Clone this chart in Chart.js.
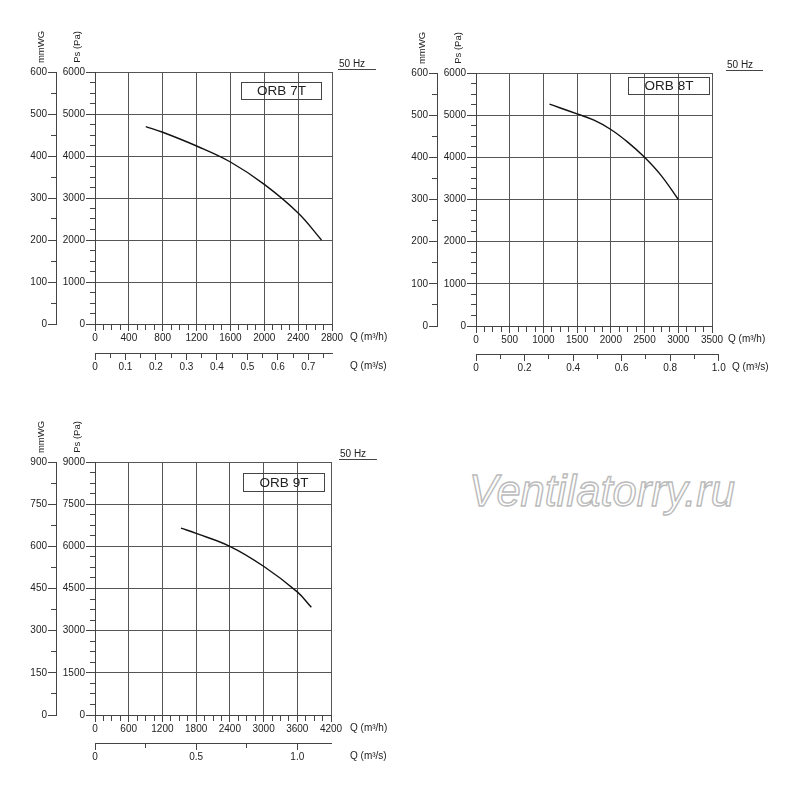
<!DOCTYPE html>
<html>
<head>
<meta charset="utf-8">
<script src="https://cdn.jsdelivr.net/npm/chart.js@4.4.1/dist/chart.umd.min.js"></script>
<style>
  html, body { margin: 0; padding: 0; background: #fff; }
  body { width: 800px; height: 789px; position: relative; overflow: hidden; }
  canvas { position: absolute; }
  #wm {
    position: absolute; left: 469px; top: 467px; line-height: 1;
    font: italic 43.5px "Liberation Sans", Arial, sans-serif;
    color: #fff; -webkit-text-stroke: 1.4px #bbbbbb; white-space: nowrap;
  }
</style>
</head>
<body>
<canvas id="c7" width="400" height="390" style="left:0;top:0"></canvas>
<canvas id="c8" width="420" height="390" style="left:380px;top:0"></canvas>
<canvas id="c9" width="400" height="399" style="left:0;top:390px"></canvas>
<div id="wm">Ventilatorry.ru</div>
<script>
// ORB 7T
const orb7Q  = [600, 800, 1200, 1600, 2000, 2400, 2676];
const orb7Ps = [4700, 4565, 4238, 3857, 3324, 2643, 2000];
const orb7PaTicks = [0, 1000, 2000, 3000, 4000, 5000, 6000];
const orb7MmTicks = [0, 100, 200, 300, 400, 500, 600];
const orb7QhTicks = [0, 400, 800, 1200, 1600, 2000, 2400, 2800];
const orb7QsTicks = [0, 0.1, 0.2, 0.3, 0.4, 0.5, 0.6, 0.7];

// ORB 8T
const orb8Q  = [1090, 1500, 1750, 2000, 2250, 2500, 2750, 3000];
const orb8Ps = [5260, 5030, 4880, 4660, 4360, 4000, 3560, 3000];
const orb8PaTicks = [0, 1000, 2000, 3000, 4000, 5000, 6000];
const orb8MmTicks = [0, 100, 200, 300, 400, 500, 600];
const orb8QhTicks = [0, 500, 1000, 1500, 2000, 2500, 3000, 3500];
const orb8QsTicks = [0, 0.2, 0.4, 0.6, 0.8, 1.0];

// ORB 9T
const orb9Q  = [1530, 1800, 2400, 3000, 3600, 3850];
const orb9Ps = [6650, 6460, 6000, 5290, 4380, 3830];
const orb9PaTicks = [0, 1500, 3000, 4500, 6000, 7500, 9000];
const orb9MmTicks = [0, 150, 300, 450, 600, 750, 900];
const orb9QhTicks = [0, 600, 1200, 1800, 2400, 3000, 3600, 4200];
const orb9QsTicks = [0, 0.5, 1.0];

const FONT = '"Liberation Sans", Arial, sans-serif';
const GRID = '#555';
const AXIS = '#444';
const TXT = '#222';

Chart.defaults.font.family = FONT;
Chart.defaults.font.size = 10;
Chart.defaults.color = TXT;

const panels = [
  { id: 'c7', name: 'ORB 7T', origin: [0, 0], pad: { left: 0, top: 72, right: 68, bottom: 12 },
    q: orb7Q, ps: orb7Ps, pa: orb7PaTicks, mm: orb7MmTicks, qh: orb7QhTicks, qs: orb7QsTicks,
    sub: { pa: 4, mm: 2, qh: 4, qs: 2 }, wL: [56, 39], hB: [29, 25],
    hz: [338, 376], box: [241, 82, 80, 17], qLab: [350, 350] },
  { id: 'c8', name: 'ORB 8T', origin: [380, 0], pad: { left: 0, top: 73, right: 88, bottom: 11 },
    q: orb8Q, ps: orb8Ps, pa: orb8PaTicks, mm: orb8MmTicks, qh: orb8QhTicks, qs: orb8QsTicks,
    sub: { pa: 4, mm: 2, qh: 4, qs: 2 }, wL: [57, 39], hB: [28, 25],
    hz: [726, 763], box: [628, 77, 81, 17], qLab: [728, 732] },
  { id: 'c9', name: 'ORB 9T', origin: [0, 390], pad: { left: 0, top: 72, right: 69, bottom: 21 },
    q: orb9Q, ps: orb9Ps, pa: orb9PaTicks, mm: orb9MmTicks, qh: orb9QhTicks, qs: orb9QsTicks,
    sub: { pa: 4, mm: 2, qh: 4, qs: 2 }, wL: [56, 39], hB: [28, 25],
    hz: [339, 377], box: [243, 473, 81, 18], qLab: [350, 350] }
];

function axis(pos, max, majors, sub, o) {
  const step = (majors[1] - majors[0]) / sub;
  const vals = [];
  for (let k = 0; k * step <= max + 1e-9; k++) vals.push(+(k * step).toFixed(6));
  const major = v => majors.some(m => Math.abs(m - v) < 1e-6);
  return {
    type: 'linear', position: pos, min: 0, max: max, weight: o.weight,
    afterBuildTicks: s => { s.ticks = vals.map(v => ({ value: v })); },
    afterFit: s => { if (pos === 'left') s.width = o.size; else s.height = o.size; },
    border: { display: true, color: AXIS, width: 1 },
    grid: {
      drawOnChartArea: !!o.grid,
      color: c => (o.grid && c.tick && major(c.tick.value)) ? GRID : 'rgba(0,0,0,0)',
      tickLength: o.tl,
      tickColor: AXIS,
      tickWidth: 1,
      tickBorderDash: c => (!c.tick || major(c.tick.value)) ? [] :
        (pos === 'left' ? [0, o.tl - o.ml, o.ml, 100] : [o.ml, 100])
    },
    ticks: {
      autoSkip: false, maxRotation: 0, minRotation: 0, padding: 1,
      callback: v => major(v) ? o.fmt(v) : ''
    }
  };
}

function rotText(ctx, t, x, y) {
  ctx.save();
  ctx.translate(x, y);
  ctx.rotate(-Math.PI / 2);
  ctx.fillText(t, 0, 0);
  ctx.restore();
}

function deco(p) {
  return {
    id: 'deco',
    afterLayout(chart) {
      // the m3/s axis may run past the plot (ORB 8T goes to 1.0)
      const s = chart.scales.x2, x = chart.scales.x;
      const ratio = s.max / (x.max / 3600);
      if (ratio > 1.0001) {
        s.right = s.left + (x.right - x.left) * ratio;
        s.width = s.right - s.left;
        s.configure();
      }
    },
    afterDraw(chart) {
      const ctx = chart.ctx, a = chart.chartArea;
      const ox = p.origin[0], oy = p.origin[1];
      ctx.save();
      ctx.fillStyle = TXT;
      ctx.strokeStyle = AXIS;
      ctx.lineWidth = 1;
      ctx.textBaseline = 'middle';
      ctx.textAlign = 'center';
      ctx.font = '9.5px ' + FONT;
      rotText(ctx, 'mmWG', chart.scales.y2.right - 15, a.top - 25);
      rotText(ctx, 'Ps (Pa)', a.left - 17.5, a.top - 25);

      ctx.textAlign = 'left';
      ctx.font = '10px ' + FONT;
      ctx.fillText('50 Hz', p.hz[0] - ox + 1, a.top - 8);
      ctx.beginPath();
      ctx.moveTo(p.hz[0] - ox, a.top - 2.5);
      ctx.lineTo(p.hz[1] - ox, a.top - 2.5);
      ctx.stroke();

      ctx.fillText('Q (m³/h)', p.qLab[0] - ox, chart.scales.x.top + 13.5);
      ctx.fillText('Q (m³/s)', p.qLab[1] - ox, chart.scales.x2.top + 13.5);

      const b = p.box;
      ctx.strokeRect(b[0] - ox + 0.5, b[1] - oy + 0.5, b[2], b[3]);
      ctx.font = '13.5px ' + FONT;
      ctx.textAlign = 'center';
      ctx.fillText(p.name, b[0] - ox + b[2] / 2 + 0.5, b[1] - oy + b[3] / 2 + 1);
      ctx.restore();
    }
  };
}

const intFmt = v => String(v);
const qsFmt = v => v === 0 ? '0' : v.toFixed(1);

panels.forEach(p => {
  const qhMax = p.qh[p.qh.length - 1];
  const qsMax = Math.max(qhMax / 3600, p.qs[p.qs.length - 1]);
  new Chart(document.getElementById(p.id), {
    type: 'line',
    data: {
      datasets: [{
        data: p.q.map((q, i) => ({ x: q, y: p.ps[i] })),
        xAxisID: 'x', yAxisID: 'y',
        borderColor: '#111', borderWidth: 1.4,
        pointRadius: 0, fill: false,
        tension: 0.4
      }]
    },
    options: {
      responsive: false, animation: false, devicePixelRatio: 1,
      layout: { padding: p.pad },
      plugins: { legend: { display: false }, tooltip: { enabled: false } },
      scales: {
        x: axis('bottom', qhMax, p.qh, p.sub.qh, { weight: 0, size: p.hB[0], tl: 7, ml: 5, grid: true, fmt: intFmt }),
        x2: axis('bottom', qsMax, p.qs, p.sub.qs, { weight: 1, size: p.hB[1], tl: 7, ml: 4, grid: false, fmt: qsFmt }),
        y: axis('left', p.pa[p.pa.length - 1], p.pa, p.sub.pa, { weight: 0, size: p.wL[1], tl: 9, ml: 5, grid: true, fmt: intFmt }),
        y2: axis('left', p.mm[p.mm.length - 1], p.mm, p.sub.mm, { weight: 1, size: p.wL[0], tl: 8, ml: 5, grid: false, fmt: intFmt })
      }
    },
    plugins: [deco(p)]
  });
});
</script>
</body>
</html>
